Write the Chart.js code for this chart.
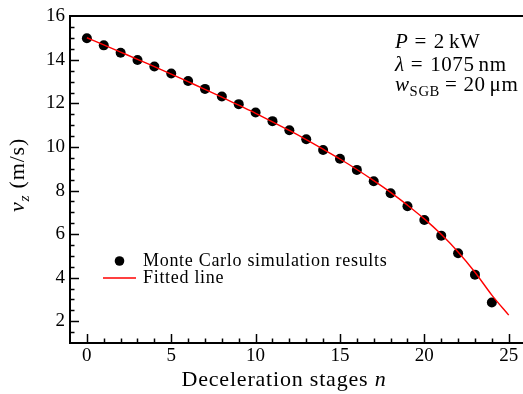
<!DOCTYPE html>
<html>
<head>
<meta charset="utf-8">
<script src="https://cdn.jsdelivr.net/npm/chart.js@4.4.1/dist/chart.umd.min.js"></script>
<style>
  html, body { margin: 0; padding: 0; background: #fff; }
</style>
</head>
<body>
<canvas id="speed-chart" width="523" height="394"></canvas>
<script>
// data
const stages = [0, 1, 2, 3, 4, 5, 6, 7, 8, 9, 10, 11, 12, 13, 14, 15, 16, 17, 18, 19, 20, 21, 22, 23, 24];
const simSpeeds = [15.0, 14.67, 14.33, 14.0, 13.7, 13.38, 13.03, 12.67, 12.32, 11.97, 11.59, 11.19, 10.77, 10.36, 9.86, 9.46, 8.95, 8.43, 7.88, 7.28, 6.65, 5.93, 5.12, 4.14, 2.86];

const fitStages = [0, 1, 2, 3, 4, 5, 6, 7, 8, 9, 10, 11, 12, 13, 14, 15, 16, 17, 18, 19, 20, 21, 22, 23, 24, 25];
const fitSpeeds = [15.02, 14.69, 14.36, 14.03, 13.69, 13.35, 13.0, 12.65, 12.29, 11.92, 11.55, 11.16, 10.76, 10.34, 9.9, 9.45, 8.97, 8.46, 7.92, 7.33, 6.7, 5.99, 5.18, 4.25, 3.2, 2.28];

const xTickValues = [0, 5, 10, 15, 20, 25];
const xMinorTicks = [0, 1, 2, 3, 4, 5, 6, 7, 8, 9, 10, 11, 12, 13, 14, 15, 16, 17, 18, 19, 20, 21, 22, 23, 24, 25];
const yTickValues = [2, 4, 6, 8, 10, 12, 14, 16];
const yMinorTicks = [1.5, 2, 2.5, 3, 3.5, 4, 4.5, 5, 5.5, 6, 6.5, 7, 7.5, 8, 8.5, 9, 9.5, 10, 10.5, 11, 11.5, 12, 12.5, 13, 13.5, 14, 14.5, 15, 15.5];

const SERIF = '"Liberation Serif", "Times New Roman", serif';

// draws pieces of text with italic / subscript parts
function drawRuns(ctx, runs, x, y, size, spacing) {
  for (const r of runs) {
    if (r.gap) { x += r.gap; continue; }
    const fs = r.sub ? size * 0.7 : size;
    ctx.font = (r.it ? 'italic ' : '') + fs + 'px ' + SERIF;
    for (const ch of r.t) {
      ctx.fillText(ch, x, y + (r.sub ? size * 0.22 : 0));
      x += ctx.measureText(ch).width + spacing;
    }
  }
  return x;
}
function runsWidth(ctx, runs, size, spacing) {
  let w = 0;
  for (const r of runs) {
    if (r.gap) { w += r.gap; continue; }
    const fs = r.sub ? size * 0.7 : size;
    ctx.font = (r.it ? 'italic ' : '') + fs + 'px ' + SERIF;
    for (const ch of r.t) w += ctx.measureText(ch).width + spacing;
  }
  return w;
}

// frame and inward ticks, drawn right after the datasets
const axesFrame = {
  id: 'axesFrame',
  afterDatasetsDraw(chart) {
    const ctx = chart.ctx;
    const xs = chart.scales.x, ys = chart.scales.y;
    const a = chart.chartArea;
    const L = Math.round(a.left), T = Math.round(a.top), B = Math.round(a.bottom);
    ctx.save();
    ctx.fillStyle = '#000';
    ctx.fillRect(L - 1, T - 1, 2, B - T + 2);
    ctx.fillRect(L - 1, T - 1, 523 - L + 1, 2);
    ctx.fillRect(L - 1, B - 1, 523 - L + 1, 2);

    ctx.strokeStyle = '#000';
    ctx.lineWidth = 1.5;
    ctx.lineCap = 'butt';
    for (const v of xMinorTicks) {
      const px = Math.round(xs.getPixelForValue(v)) + 0.5;
      const len = xTickValues.includes(v) ? 9 : 4.5;
      ctx.beginPath();
      ctx.moveTo(px, B);
      ctx.lineTo(px, B - len);
      ctx.stroke();
    }
    for (const v of yMinorTicks) {
      const py = Math.round(ys.getPixelForValue(v)) + 0.5;
      const len = yTickValues.includes(v) ? 9 : 4.5;
      ctx.beginPath();
      ctx.moveTo(L, py);
      ctx.lineTo(L + len, py);
      ctx.stroke();
    }
    ctx.restore();
  }
};

const labels = {
  id: 'labels',
  afterDraw(chart) {
    const ctx = chart.ctx;
    ctx.save();
    ctx.fillStyle = '#000';
    ctx.textBaseline = 'alphabetic';
    ctx.textAlign = 'left';

    // x title
    const xt = [{ t: 'Deceleration stages ' }, { t: 'n', it: true }];
    drawRuns(ctx, xt, 284 - runsWidth(ctx, xt, 22, 0.8) / 2, 386, 22, 0.8);

    // y title
    const yt = [{ t: 'v', it: true }, { t: 'z', it: true, sub: true }, { t: ' (m/s)' }];
    ctx.save();
    ctx.translate(24, 175);
    ctx.rotate(-Math.PI / 2);
    drawRuns(ctx, yt, -runsWidth(ctx, yt, 22, 0.8) / 2, 0, 22, 0.8);
    ctx.restore();

    // legend
    ctx.beginPath();
    ctx.arc(119.5, 261, 4.8, 0, Math.PI * 2);
    ctx.fill();
    drawRuns(ctx, [{ t: 'Monte Carlo simulation results' }], 143, 266, 18, 0.7);
    drawRuns(ctx, [{ t: 'Fitted line' }], 143, 283, 18, 0.7);
    ctx.strokeStyle = '#ff0000';
    ctx.lineWidth = 1.3;
    ctx.beginPath();
    ctx.moveTo(103, 278); ctx.lineTo(136, 278);
    ctx.stroke();

    // parameters
    drawRuns(ctx, [{ t: 'P', it: true }, { gap: 6 }, { t: '=' }, { gap: 7 }, { t: '2' }, { gap: 4 }, { t: 'kW' }], 395, 48, 21, 0.6);
    drawRuns(ctx, [{ t: 'λ', it: true }, { gap: 6 }, { t: '=' }, { gap: 7 }, { t: '1075' }, { gap: 4 }, { t: 'nm' }], 395, 71, 21, 0.6);
    drawRuns(ctx, [{ t: 'w', it: true }, { t: 'SGB', sub: true }, { gap: 5 }, { t: '=' }, { gap: 6 }, { t: '20' }, { gap: 4 }, { t: 'μm' }], 395, 91, 21, 0.6);

    ctx.restore();
  }
};

const data = {
  datasets: [{
    label: 'Fitted line',
    data: fitStages.map((n, i) => ({ x: n, y: fitSpeeds[i] })),
    type: 'line',
    borderColor: '#ff0000',
    borderWidth: 1.4,
    pointRadius: 0,
    cubicInterpolationMode: 'monotone',
    order: 0
  }, {
    label: 'Monte Carlo simulation results',
    data: stages.map((n, i) => ({ x: n, y: simSpeeds[i] })),
    type: 'scatter',
    backgroundColor: '#000',
    borderWidth: 0,
    pointRadius: 5,
    order: 1
  }]
};

const tickFont = { family: SERIF, size: 19 };

const config = {
  type: 'scatter',
  data: data,
  plugins: [axesFrame, labels],
  options: {
    responsive: false,
    animation: false,
    devicePixelRatio: 1,
    layout: { padding: { top: 16, right: 0, left: 0, bottom: 0 } },
    plugins: {
      legend: { display: false },
      tooltip: { enabled: false }
    },
    scales: {
      x: {
        type: 'linear',
        min: -1,
        max: 25.55,
        grid: { display: false, drawTicks: false },
        border: { display: false },
        ticks: { font: tickFont, color: '#000', padding: 2, autoSkip: false, maxRotation: 0 },
        afterBuildTicks: s => { s.ticks = xTickValues.map(v => ({ value: v })); },
        afterFit: s => { s.height = 51; }
      },
      y: {
        type: 'linear',
        min: 1,
        max: 16,
        grid: { display: false, drawTicks: false },
        border: { display: false },
        ticks: { font: tickFont, color: '#000', padding: 5, autoSkip: false },
        afterBuildTicks: s => { s.ticks = yTickValues.map(v => ({ value: v })); },
        afterFit: s => { s.width = 70; }
      }
    }
  }
};

const myChart = new Chart(document.getElementById('speed-chart'), config);
</script>
</body>
</html>
